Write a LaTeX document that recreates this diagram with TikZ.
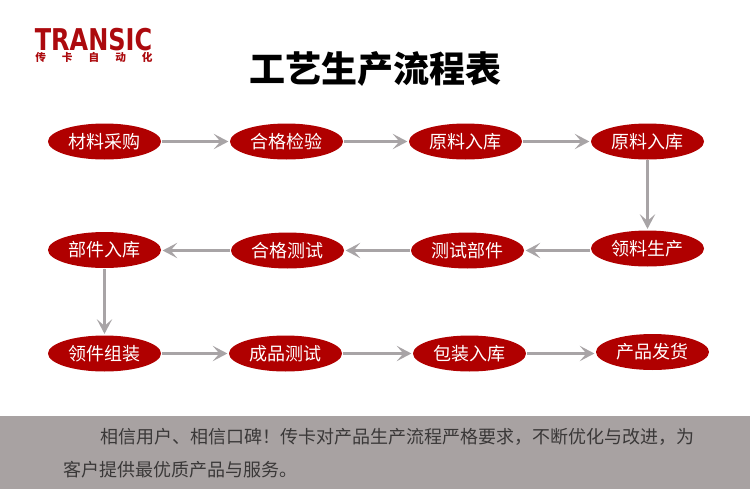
\documentclass[tikz,border=0pt]{standalone}
\usepackage{fontspec}
\setmainfont{Liberation Sans}
\newfontfamily\cjk{Noto Sans CJK SC}
\newfontfamily\logofont{DejaVu Sans}
\usepackage{xcolor}
\usetikzlibrary{arrows.meta,shapes.geometric}
\definecolor{darkred}{RGB}{176,0,0}
\definecolor{logored}{RGB}{172,10,14}
\definecolor{flowgray}{RGB}{168,164,166}
\definecolor{footgray}{RGB}{168,162,162}
\definecolor{foottext}{RGB}{58,56,56}
\tikzset{
  stepnode/.style={ellipse,fill=darkred,text=white,minimum width=84.75pt,minimum height=27pt,inner sep=0pt,font=\cjk\fontsize{13.5pt}{13.5pt}\selectfont},
  flow/.style={-{Stealth[length=11pt,width=11.5pt,inset=5pt]},draw=flowgray,line width=1.6pt,shorten >=1pt,shorten <=0.5pt},
  footline/.style={anchor=west,inner sep=0pt,text=foottext,font=\cjk\fontsize{13.5pt}{13.5pt}\selectfont}
}
\begin{document}
\begin{tikzpicture}[x=0.75pt,y=-0.75pt]
  \useasboundingbox (0,0) rectangle (750,489);
  \fill[footgray] (0,416) rectangle (750,489);

  % --- logo and title ---------------------------------------------------
  \node[text=logored,inner sep=0pt,font=\logofont\bfseries\fontsize{22.5pt}{22.5pt}\selectfont] (logo) at (93.5,39.5) {\scalebox{.8}[1]{TRANSIC}};
  \node[text=logored,inner sep=0pt,font=\cjk\bfseries\fontsize{8pt}{8pt}\selectfont] (logosub) at (94,57) {传\hspace{12pt}卡\hspace{12pt}自\hspace{12pt}动\hspace{12pt}化};
  \node[inner sep=0pt,font=\cjk\bfseries\fontsize{27pt}{27pt}\selectfont] (title) at (375,69) {工艺生产流程表};

  % --- first row --------------------------------------------------------
  \node[stepnode] (buy) at (104.5,141.5) {材料采购};
  \node[stepnode] (check) at (286.5,141.5) {合格检验};
  \node[stepnode] (store) at (465.5,141.5) {原料入库};
  \node[stepnode] (storeb) at (647.5,141.5) {原料入库};
  % --- second row -------------------------------------------------------
  \node[stepnode] (make) at (647.5,248.5) {领料生产};
  \node[stepnode] (parts) at (467.5,250.5) {测试部件};
  \node[stepnode] (pass) at (287.5,250.5) {合格测试};
  \node[stepnode] (partstore) at (104.5,250) {部件入库};
  % --- third row --------------------------------------------------------
  \node[stepnode] (fetch) at (104.5,353.5) {领件组装};
  \node[stepnode] (test) at (285.5,353.5) {成品测试};
  \node[stepnode] (pack) at (469.5,353.5) {包装入库};
  \node[stepnode] (ship) at (652.5,352) {产品发货};

  % --- connectors -------------------------------------------------------
  \draw[flow] (buy) -- (check);
  \draw[flow] (check) -- (store);
  \draw[flow] (store) -- (storeb);
  \draw[flow] (storeb) -- (make);
  \draw[flow] (make.west |- parts.east) -- (parts.east);
  \draw[flow] (parts) -- (pass);
  \draw[flow] (pass) -- (partstore.east |- pass.west);
  \draw[flow] (partstore) -- (fetch);
  \draw[flow] (fetch) -- (test);
  \draw[flow] (test) -- (pack);
  \draw[flow] (pack.east) -- (ship.west |- pack.east);

  % --- footer -----------------------------------------------------------
  \node[footline] (foota) at (100,437) {相信用户、相信口碑！传卡对产品生产流程严格要求，不断优化与改进，为};
  \node[footline] (footb) at (63,470) {客户提供最优质产品与服务。};
\end{tikzpicture}
\end{document}
